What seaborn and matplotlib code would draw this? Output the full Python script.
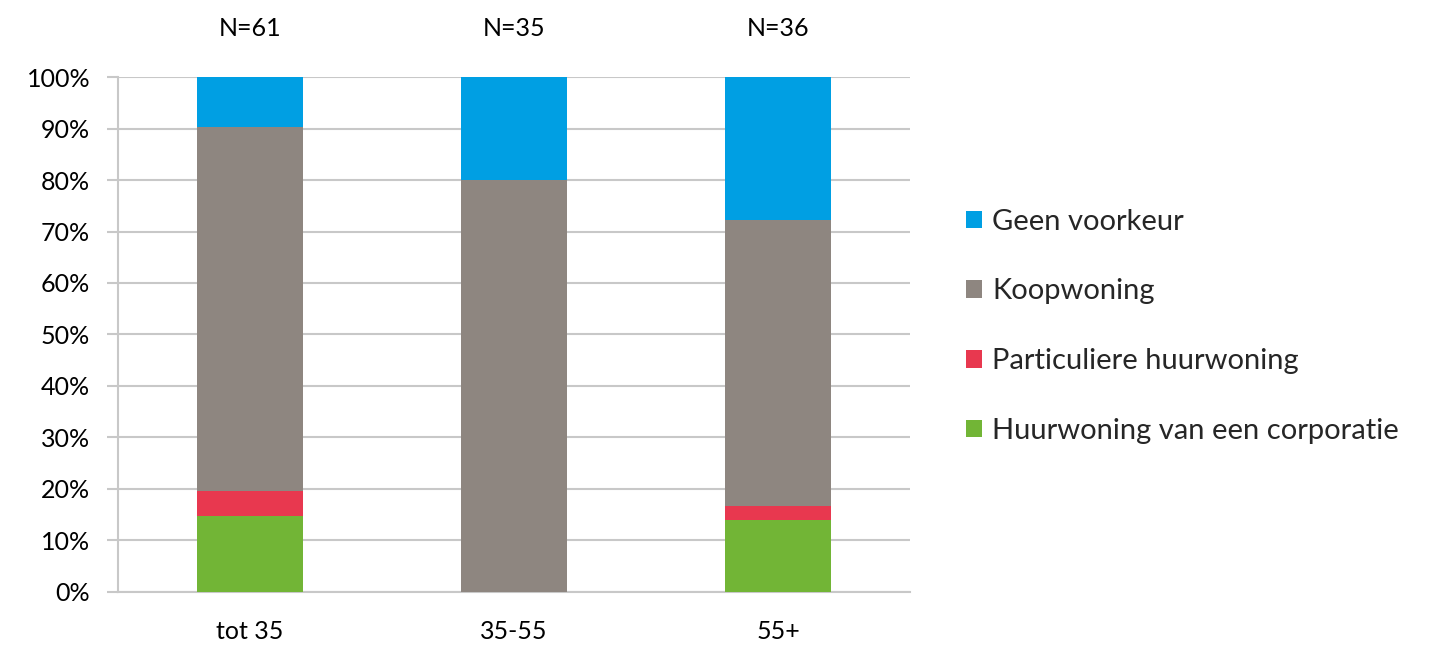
import matplotlib
matplotlib.use("Agg")
import matplotlib.pyplot as plt
from matplotlib.patches import Patch
from matplotlib.ticker import FuncFormatter, MultipleLocator
import seaborn as sns
import pandas as pd

# Age groups and respondents per group
groups = ["tot 35", "35-55", "55+"]
n_resp = [61, 35, 36]

# Share (%) per preferred housing type, per age group
corporatie = [14.8, 0.0, 13.9]
particulier = [4.9, 0.0, 2.8]
koop = [70.5, 80.0, 55.5]
geen = [9.8, 20.0, 27.8]

series_names = ["Huurwoning van een corporatie", "Particuliere huurwoning",
                "Koopwoning", "Geen voorkeur"]
series_values = [corporatie, particulier, koop, geen]
colors = ["#72B536", "#E8384F", "#8E8680", "#009FE3"]

sns.set_theme(style="white")
plt.rcParams["font.family"] = ["Lato", "DejaVu Sans"]

fig = plt.figure(figsize=(14.33, 6.46), dpi=100)
ax = fig.add_axes([0.0823, 0.0836, 0.5527, 0.7972])

# Stack: draw cumulative totals from the top layer down
df = pd.DataFrame({"groep": groups})
cum = [0.0] * len(groups)
cums = []
for vals in series_values:
    cum = [c + v for c, v in zip(cum, vals)]
    cums.append(list(cum))
for name, tot, col in reversed(list(zip(series_names, cums, colors))):
    df["val"] = tot
    sns.barplot(data=df, x="groep", y="val", color=col, width=0.4,
                saturation=1, ax=ax, zorder=3, linewidth=0)

ax.set_xlim(-0.5, 2.5)
ax.set_ylim(0, 100)
ax.yaxis.set_major_locator(MultipleLocator(10))
ax.yaxis.set_major_formatter(FuncFormatter(lambda v, p: f"{v:.0f}%"))
ax.set_xlabel("")
ax.set_ylabel("")

grid_c = "#C8C8C8"
ax.grid(axis="y", color=grid_c, linewidth=1.5, zorder=0)
ax.grid(axis="x", visible=False)
for s in ["top", "right"]:
    ax.spines[s].set_visible(False)
ax.spines["left"].set_color(grid_c)
ax.spines["bottom"].set_color(grid_c)
ax.spines["left"].set_linewidth(1.5)
ax.spines["bottom"].set_linewidth(1.5)

# Category ticks between groups
ax.set_xticks([0, 1, 2])
ax.set_xticklabels(groups)
ax.set_xticks([-0.5, 0.5, 1.5, 2.5], minor=True)
ax.tick_params(axis="x", which="major", length=0, pad=20, labelsize=18, colors="black")
ax.tick_params(axis="x", which="minor", length=9, width=1.5, color=grid_c, direction="out")
ax.tick_params(axis="y", length=8, width=1.5, color=grid_c, direction="out",
               labelsize=18, pad=12, colors="black", left=True)
for lab in ax.get_yticklabels() + ax.get_xticklabels():
    lab.set_color("black")

# Respondent counts above the bars
for i, n in enumerate(n_resp):
    ax.text(i, 1.095, f"N={n}", transform=ax.get_xaxis_transform(),
            ha="center", va="center", fontsize=18, color="black")

handles = [Patch(facecolor=c, edgecolor="none") for c in reversed(colors)]
fig.legend(handles, list(reversed(series_names)), loc="center left",
           bbox_to_anchor=(0.674, 0.495), frameon=False, fontsize=21,
           handlelength=0.55, handleheight=0.55, handletextpad=0.35,
           labelspacing=1.5, borderpad=0, borderaxespad=0)

fig.savefig("out.png", dpi=100)
